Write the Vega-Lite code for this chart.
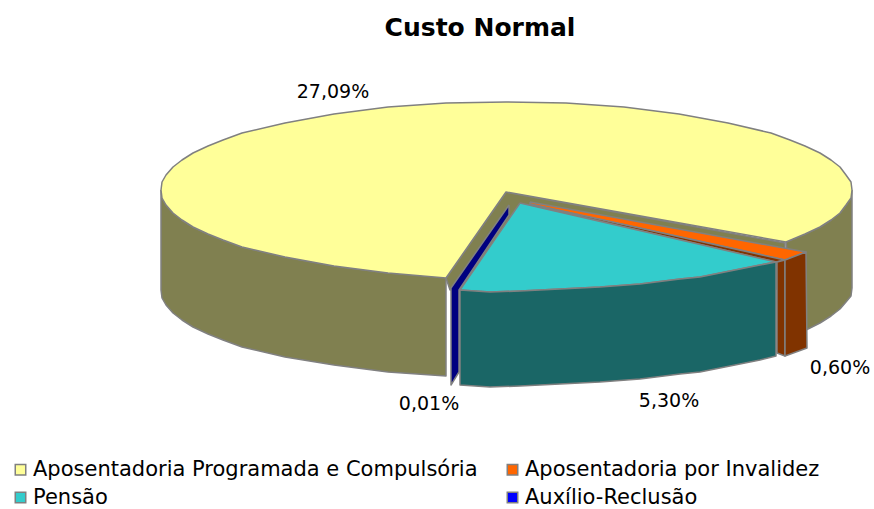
{"$schema":"https://vega.github.io/schema/vega-lite/v6.json","width":874,"height":509,"padding":0,"autosize":"none","background":"white","title":{"text":"Custo Normal","font":"DejaVu Sans","fontSize":25,"fontWeight":"bold","color":"#000000","anchor":"middle","dx":43,"offset":-41},"config":{"view":{"stroke":null}},"datasets":{"faces":[
{"p":"yw1","f":"A lateral","x":-345,"y":0},{"p":"yw1","f":"A lateral","x":-344,"y":-8},{"p":"yw1","f":"A lateral","x":-340,"y":-15},{"p":"yw1","f":"A lateral","x":-333,"y":-23},{"p":"yw1","f":"A lateral","x":-324,"y":-30},{"p":"yw1","f":"A lateral","x":-313,"y":-37},{"p":"yw1","f":"A lateral","x":-298,"y":-44},{"p":"yw1","f":"A lateral","x":-283,"y":-50},{"p":"yw1","f":"A lateral","x":-264,"y":-57},{"p":"yw1","f":"A lateral","x":-221,"y":-67},{"p":"yw1","f":"A lateral","x":-172,"y":-76},{"p":"yw1","f":"A lateral","x":-118,"y":-83},{"p":"yw1","f":"A lateral","x":-60,"y":-87},{"p":"yw1","f":"A lateral","x":-60,"y":-186},{"p":"yw1","f":"A lateral","x":-118,"y":-182},{"p":"yw1","f":"A lateral","x":-172,"y":-175},{"p":"yw1","f":"A lateral","x":-221,"y":-167},{"p":"yw1","f":"A lateral","x":-264,"y":-157},{"p":"yw1","f":"A lateral","x":-283,"y":-150},{"p":"yw1","f":"A lateral","x":-298,"y":-144},{"p":"yw1","f":"A lateral","x":-313,"y":-137},{"p":"yw1","f":"A lateral","x":-324,"y":-130},{"p":"yw1","f":"A lateral","x":-333,"y":-123},{"p":"yw1","f":"A lateral","x":-340,"y":-115},{"p":"yw1","f":"A lateral","x":-344,"y":-108},{"p":"yw1","f":"A lateral","x":-345,"y":-100},{"p":"yw1","f":"A lateral","x":-345,"y":0},
{"p":"yw2","f":"A lateral","x":346,"y":0},{"p":"yw2","f":"A lateral","x":345,"y":-8},{"p":"yw2","f":"A lateral","x":340,"y":-15},{"p":"yw2","f":"A lateral","x":334,"y":-23},{"p":"yw2","f":"A lateral","x":325,"y":-30},{"p":"yw2","f":"A lateral","x":314,"y":-37},{"p":"yw2","f":"A lateral","x":299,"y":-44},{"p":"yw2","f":"A lateral","x":280,"y":-52},{"p":"yw2","f":"A lateral","x":290,"y":-145},{"p":"yw2","f":"A lateral","x":300,"y":-140},{"p":"yw2","f":"A lateral","x":314,"y":-133},{"p":"yw2","f":"A lateral","x":325,"y":-126},{"p":"yw2","f":"A lateral","x":334,"y":-119},{"p":"yw2","f":"A lateral","x":340,"y":-112},{"p":"yw2","f":"A lateral","x":345,"y":-106},{"p":"yw2","f":"A lateral","x":346,"y":-98},{"p":"yw2","f":"A lateral","x":346,"y":0},
{"p":"yi","f":"A lateral","x":0,"y":-2},{"p":"yi","f":"A lateral","x":279,"y":-53},{"p":"yi","f":"A lateral","x":279,"y":-100},{"p":"yi","f":"A lateral","x":14,"y":-70},{"p":"yi","f":"A lateral","x":-56,"y":-100},{"p":"yi","f":"A lateral","x":-60,"y":-88},{"p":"yi","f":"A lateral","x":0,"y":-2},
{"p":"yt","f":"Aposentadoria Programada e Compulsória","x":-60,"y":-88},{"p":"yt","f":"Aposentadoria Programada e Compulsória","x":-118,"y":-83},{"p":"yt","f":"Aposentadoria Programada e Compulsória","x":-172,"y":-76},{"p":"yt","f":"Aposentadoria Programada e Compulsória","x":-221,"y":-67},{"p":"yt","f":"Aposentadoria Programada e Compulsória","x":-264,"y":-57},{"p":"yt","f":"Aposentadoria Programada e Compulsória","x":-283,"y":-50},{"p":"yt","f":"Aposentadoria Programada e Compulsória","x":-298,"y":-44},{"p":"yt","f":"Aposentadoria Programada e Compulsória","x":-313,"y":-37},{"p":"yt","f":"Aposentadoria Programada e Compulsória","x":-324,"y":-30},{"p":"yt","f":"Aposentadoria Programada e Compulsória","x":-333,"y":-23},{"p":"yt","f":"Aposentadoria Programada e Compulsória","x":-340,"y":-15},{"p":"yt","f":"Aposentadoria Programada e Compulsória","x":-344,"y":-8},{"p":"yt","f":"Aposentadoria Programada e Compulsória","x":-345,"y":0},{"p":"yt","f":"Aposentadoria Programada e Compulsória","x":-344,"y":8},{"p":"yt","f":"Aposentadoria Programada e Compulsória","x":-340,"y":15},{"p":"yt","f":"Aposentadoria Programada e Compulsória","x":-333,"y":23},{"p":"yt","f":"Aposentadoria Programada e Compulsória","x":-324,"y":30},{"p":"yt","f":"Aposentadoria Programada e Compulsória","x":-313,"y":37},{"p":"yt","f":"Aposentadoria Programada e Compulsória","x":-298,"y":44},{"p":"yt","f":"Aposentadoria Programada e Compulsória","x":-283,"y":50},{"p":"yt","f":"Aposentadoria Programada e Compulsória","x":-264,"y":57},{"p":"yt","f":"Aposentadoria Programada e Compulsória","x":-221,"y":67},{"p":"yt","f":"Aposentadoria Programada e Compulsória","x":-172,"y":76},{"p":"yt","f":"Aposentadoria Programada e Compulsória","x":-118,"y":83},{"p":"yt","f":"Aposentadoria Programada e Compulsória","x":-60,"y":87},{"p":"yt","f":"Aposentadoria Programada e Compulsória","x":0,"y":88},{"p":"yt","f":"Aposentadoria Programada e Compulsória","x":60,"y":87},{"p":"yt","f":"Aposentadoria Programada e Compulsória","x":118,"y":83},{"p":"yt","f":"Aposentadoria Programada e Compulsória","x":173,"y":76},{"p":"yt","f":"Aposentadoria Programada e Compulsória","x":222,"y":67},{"p":"yt","f":"Aposentadoria Programada e Compulsória","x":265,"y":57},{"p":"yt","f":"Aposentadoria Programada e Compulsória","x":284,"y":50},{"p":"yt","f":"Aposentadoria Programada e Compulsória","x":299,"y":44},{"p":"yt","f":"Aposentadoria Programada e Compulsória","x":314,"y":37},{"p":"yt","f":"Aposentadoria Programada e Compulsória","x":325,"y":30},{"p":"yt","f":"Aposentadoria Programada e Compulsória","x":334,"y":23},{"p":"yt","f":"Aposentadoria Programada e Compulsória","x":340,"y":15},{"p":"yt","f":"Aposentadoria Programada e Compulsória","x":345,"y":8},{"p":"yt","f":"Aposentadoria Programada e Compulsória","x":346,"y":0},{"p":"yt","f":"Aposentadoria Programada e Compulsória","x":345,"y":-8},{"p":"yt","f":"Aposentadoria Programada e Compulsória","x":340,"y":-15},{"p":"yt","f":"Aposentadoria Programada e Compulsória","x":334,"y":-23},{"p":"yt","f":"Aposentadoria Programada e Compulsória","x":325,"y":-30},{"p":"yt","f":"Aposentadoria Programada e Compulsória","x":314,"y":-37},{"p":"yt","f":"Aposentadoria Programada e Compulsória","x":299,"y":-44},{"p":"yt","f":"Aposentadoria Programada e Compulsória","x":280,"y":-52},{"p":"yt","f":"Aposentadoria Programada e Compulsória","x":0,"y":-2},{"p":"yt","f":"Aposentadoria Programada e Compulsória","x":-60,"y":-88},
{"p":"bw","f":"D lateral","x":3,"y":-15},{"p":"bw","f":"D lateral","x":-55,"y":-98},{"p":"bw","f":"D lateral","x":-55,"y":-195},{"p":"bw","f":"D lateral","x":-47,"y":-182},{"p":"bw","f":"D lateral","x":-47,"y":-100},{"p":"bw","f":"D lateral","x":3,"y":-25},{"p":"bw","f":"D lateral","x":3,"y":-15},
{"p":"ot","f":"Aposentadoria por Invalidez","x":24,"y":-12},{"p":"ot","f":"Aposentadoria por Invalidez","x":300,"y":-62},{"p":"ot","f":"Aposentadoria por Invalidez","x":279,"y":-70},{"p":"ot","f":"Aposentadoria por Invalidez","x":24,"y":-14},{"p":"ot","f":"Aposentadoria por Invalidez","x":24,"y":-12},
{"p":"os","f":"B lateral","x":24,"y":-14},{"p":"os","f":"B lateral","x":279,"y":-70},{"p":"os","f":"B lateral","x":270,"y":-72},{"p":"os","f":"B lateral","x":24,"y":-15},{"p":"os","f":"B lateral","x":24,"y":-14},
{"p":"ow1","f":"B lateral","x":271,"y":-72},{"p":"ow1","f":"B lateral","x":279,"y":-70},{"p":"ow1","f":"B lateral","x":279,"y":-166},{"p":"ow1","f":"B lateral","x":271,"y":-163},{"p":"ow1","f":"B lateral","x":271,"y":-72},
{"p":"ow2","f":"B lateral","x":279,"y":-70},{"p":"ow2","f":"B lateral","x":300,"y":-62},{"p":"ow2","f":"B lateral","x":301,"y":-158},{"p":"ow2","f":"B lateral","x":279,"y":-166},{"p":"ow2","f":"B lateral","x":279,"y":-70},
{"p":"ct","f":"Pensão","x":14,"y":-13},{"p":"ct","f":"Pensão","x":-46,"y":-100},{"p":"ct","f":"Pensão","x":-16,"y":-102},{"p":"ct","f":"Pensão","x":14,"y":-101},{"p":"ct","f":"Pensão","x":54,"y":-99},{"p":"ct","f":"Pensão","x":94,"y":-97},{"p":"ct","f":"Pensão","x":134,"y":-94},{"p":"ct","f":"Pensão","x":174,"y":-89},{"p":"ct","f":"Pensão","x":194,"y":-87},{"p":"ct","f":"Pensão","x":224,"y":-81},{"p":"ct","f":"Pensão","x":254,"y":-75},{"p":"ct","f":"Pensão","x":270,"y":-72},{"p":"ct","f":"Pensão","x":14,"y":-13},
{"p":"cw","f":"C lateral","x":-46,"y":-100},{"p":"cw","f":"C lateral","x":-16,"y":-102},{"p":"cw","f":"C lateral","x":14,"y":-101},{"p":"cw","f":"C lateral","x":54,"y":-99},{"p":"cw","f":"C lateral","x":94,"y":-97},{"p":"cw","f":"C lateral","x":134,"y":-94},{"p":"cw","f":"C lateral","x":174,"y":-89},{"p":"cw","f":"C lateral","x":194,"y":-87},{"p":"cw","f":"C lateral","x":224,"y":-81},{"p":"cw","f":"C lateral","x":254,"y":-75},{"p":"cw","f":"C lateral","x":270,"y":-72},{"p":"cw","f":"C lateral","x":270,"y":-166},{"p":"cw","f":"C lateral","x":254,"y":-170},{"p":"cw","f":"C lateral","x":224,"y":-176},{"p":"cw","f":"C lateral","x":194,"y":-182},{"p":"cw","f":"C lateral","x":174,"y":-184},{"p":"cw","f":"C lateral","x":134,"y":-189},{"p":"cw","f":"C lateral","x":94,"y":-192},{"p":"cw","f":"C lateral","x":54,"y":-194},{"p":"cw","f":"C lateral","x":14,"y":-196},{"p":"cw","f":"C lateral","x":-16,"y":-197},{"p":"cw","f":"C lateral","x":-46,"y":-195},{"p":"cw","f":"C lateral","x":-46,"y":-100}
],"slices":[
{"categoria":"Aposentadoria Programada e Compulsória","rotulo":"27,09%","x":-173,"y":98},
{"categoria":"Aposentadoria por Invalidez","rotulo":"0,60%","x":334,"y":-178},
{"categoria":"Pensão","rotulo":"5,30%","x":163,"y":-211},
{"categoria":"Auxílio-Reclusão","rotulo":"0,01%","x":-77,"y":-214}
]},"encoding":{"x":{"field":"x","type":"quantitative","scale":{"domain":[-506,368]},"axis":null},"y":{"field":"y","type":"quantitative","scale":{"domain":[-319,190]},"axis":null}},"layer":[
{"data":{"name":"faces"},"transform":[{"window":[{"op":"row_number","as":"i"}]}],"mark":{"type":"line","stroke":"#808080","strokeWidth":1.5,"strokeJoin":"round","clip":false},"encoding":{"detail":{"field":"p"},"order":{"field":"i","type":"quantitative"},"fill":{"field":"f","type":"nominal","scale":{"domain":["Aposentadoria Programada e Compulsória","Aposentadoria por Invalidez","Pensão","Auxílio-Reclusão","A lateral","B lateral","C lateral","D lateral"],"range":["#FFFF99","#FF6600","#33CCCC","#0000FF","#808050","#803300","#1A6666","#000080"]},"legend":{"values":["Aposentadoria Programada e Compulsória","Aposentadoria por Invalidez","Pensão","Auxílio-Reclusão"],"title":null,"orient":"none","legendX":10,"legendY":459,"columns":2,"direction":"horizontal","symbolType":"square","symbolSize":110,"symbolStrokeColor":"#808080","symbolStrokeWidth":1.5,"labelFont":"DejaVu Sans","labelFontSize":21,"labelColor":"#000000","labelLimit":500,"rowPadding":6,"columnPadding":24,"labelOffset":2}}}},
{"data":{"name":"slices"},"mark":{"type":"text","font":"DejaVu Sans","fontSize":19,"color":"#000000"},"encoding":{"text":{"field":"rotulo"}}}
]}
